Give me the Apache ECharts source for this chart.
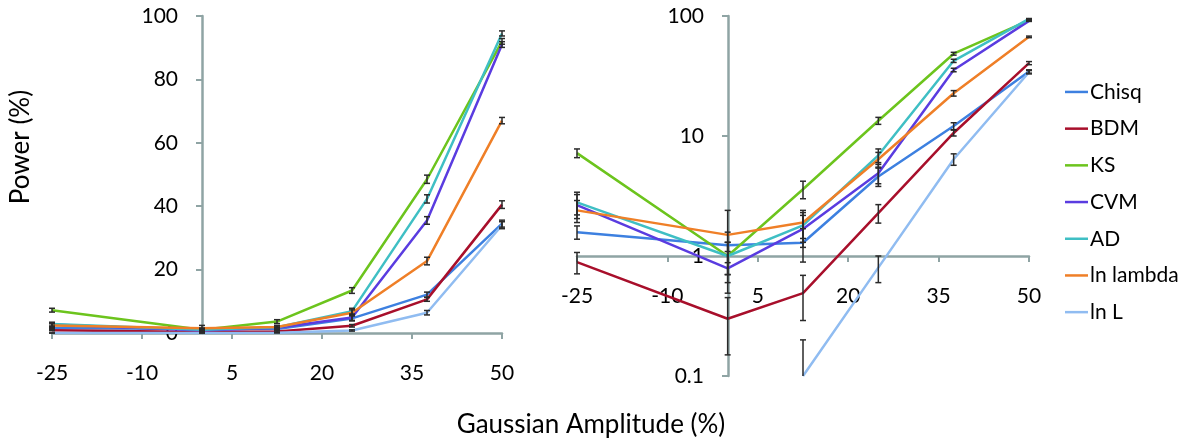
<!DOCTYPE html>
<html>
<head>
<meta charset="utf-8">
<script src="https://cdn.jsdelivr.net/npm/echarts@6/dist/echarts.min.js"></script>
<style>
html,body{margin:0;padding:0;background:#fff;}
#c{width:1192px;height:443px;}
</style>
</head>
<body>
<div id="c"></div>
<script>
// ---- data ----
var amplitudes = [-25, 0, 12.5, 25, 37.5, 50];
var xTicks = [-25, -10, 5, 20, 35, 50];
var seriesNames = ['Chisq', 'BDM', 'KS', 'CVM', 'AD', 'ln lambda', 'ln L'];
var chisq     = [1.58, 1.23, 1.29, 4.6, 12.1, 34.5];
var bdm       = [0.89, 0.30, 0.49, 2.28, 10.6, 40.5];
var ks        = [7.2, 1.0, 3.6, 13.4, 48.5, 92];
var cvm       = [2.65, 0.79, 1.68, 4.9, 35.5, 91];
var ad        = [2.8, 1.0, 1.8, 6.9, 42.3, 94.5];
var lnLambda  = [2.4, 1.5, 1.9, 6.4, 22.7, 67];
var lnL       = [0, 0, 0.1, 0.8, 6.4, 34];
var chisqErr    = [0.2, 0.35, 0.4, 0.8, 0.8, 1.1];
var bdmErr      = [0.18, 0.15, 0.2, 0.4, 0.6, 1.2];
var ksErr       = [0.6, 0.3, 0.6, 0.9, 1.3, 0.9];
var cvmErr      = [0.6, 0.3, 0.5, 0.9, 1.2, 0.9];
var adErr       = [0.6, 0.3, 0.5, 0.9, 1.3, 0.8];
var lnLambdaErr = [0.5, 0.9, 0.5, 0.9, 1.2, 1.0];
var lnLErr      = [0, 0, 0.1, 0.2, 0.7, 1.1];
var linTicksMax = 100;
var logMin = 0.1, logMax = 100;

var values = [chisq, bdm, ks, cvm, ad, lnLambda, lnL];
var errors = [chisqErr, bdmErr, ksErr, cvmErr, adErr, lnLambdaErr, lnLErr];
var colors = ['#3d80e0', '#a80f2b', '#6cc41d', '#5a3ce0', '#3fbfc4', '#ef7f27', '#90bcf1'];

var axisColor = '#8fa4a4';
var FONT = 'Lato, "Open Sans", sans-serif';
var TXT = '#000';

function xAxisCfg(gridIndex, offset) {
  return {
    type: 'value', gridIndex: gridIndex, min: -25, max: 50,
    offset: offset,
    axisLine: {show: true, onZero: false, lineStyle: {color: axisColor, width: 2.5}},
    axisTick: {show: true, length: 6, inside: false, customValues: xTicks, lineStyle: {color: axisColor, width: 2}},
    axisLabel: {customValues: xTicks, margin: 30, fontSize: 21, color: TXT, fontFamily: FONT},
    splitLine: {show: false}
  };
}
function yAxisBase(gridIndex, offset) {
  return {
    gridIndex: gridIndex, offset: offset,
    axisLine: {show: true, onZero: false, lineStyle: {color: axisColor, width: 2.5}},
    axisTick: {show: true, length: 6, inside: false, lineStyle: {color: axisColor, width: 2}},
    axisLabel: {margin: 24, fontSize: 21, color: TXT, fontFamily: FONT},
    splitLine: {show: false},
    minorTick: {show: false}
  };
}

var yLin = yAxisBase(0, -150);
yLin.type = 'value'; yLin.min = 0; yLin.max = linTicksMax; yLin.interval = 20;
var yLog = yAxisBase(1, -151);
yLog.type = 'log'; yLog.logBase = 10; yLog.min = logMin; yLog.max = logMax;
yLog.axisLabel.formatter = function (v) { return String(+v.toPrecision(3)); };

function errSeries(idx, gridIdx, isLog) {
  var data = [];
  for (var i = 0; i < amplitudes.length; i++) {
    var v = values[idx][i];
    if (isLog && !(v > 0)) continue;
    data.push([amplitudes[i], v, errors[idx][i]]);
  }
  return {
    type: 'custom', name: seriesNames[idx] + ' err', xAxisIndex: gridIdx, yAxisIndex: gridIdx,
    z: 5, silent: true, encode: {x: 0, y: 1},
    renderItem: function (params, api) {
      var x = api.value(0), y = api.value(1), e = api.value(2);
      var hi = y + e, lo = y - e, loCap = true;
      if (isLog) {
        if (lo < logMin) { lo = logMin; loCap = false; }
        if (hi > logMax) hi = logMax;
      } else {
        if (lo < 0) lo = 0;
      }
      var pH = api.coord([x, hi]), pL = api.coord([x, lo]);
      var st = {stroke: '#2a2a2a', lineWidth: 1.5};
      var ch = [
        {type: 'line', shape: {x1: pH[0], y1: pH[1], x2: pL[0], y2: pL[1]}, style: st},
        {type: 'line', shape: {x1: pH[0] - 3, y1: pH[1], x2: pH[0] + 3, y2: pH[1]}, style: st}
      ];
      if (loCap) ch.push({type: 'line', shape: {x1: pL[0] - 3, y1: pL[1], x2: pL[0] + 3, y2: pL[1]}, style: st});
      return {type: 'group', children: ch};
    },
    data: data
  };
}

var series = [];
[0, 1].forEach(function (g) {
  var isLog = g === 1;
  for (var k = 0; k < seriesNames.length; k++) {
    var d = [];
    for (var i = 0; i < amplitudes.length; i++) {
      var v = values[k][i];
      if (isLog && !(v > 0)) continue;
      d.push([amplitudes[i], v]);
    }
    series.push({
      type: 'line', name: seriesNames[k], xAxisIndex: g, yAxisIndex: g,
      data: d, symbol: 'none', color: colors[k],
      lineStyle: {width: 2.5, color: colors[k]}, z: 3, silent: true
    });
  }
});
[0, 1].forEach(function (g) {
  for (var k = 0; k < seriesNames.length; k++) series.push(errSeries(k, g, g === 1));
});

var chart = echarts.init(document.getElementById('c'), null, {renderer: 'canvas'});
chart.setOption({
  backgroundColor: '#fff',
  animation: false,
  grid: [
    {left: 52, top: 16, width: 450, height: 317, containLabel: false, outerBoundsMode: 'none'},
    {left: 577, top: 16, width: 452, height: 360, containLabel: false, outerBoundsMode: 'none'}
  ],
  xAxis: [xAxisCfg(0, 0), xAxisCfg(1, -120)],
  yAxis: [yLin, yLog],
  legend: {
    data: seriesNames, orient: 'vertical', left: 1060, top: 68.6,
    icon: 'rect', itemWidth: 23, itemHeight: 2.5, itemGap: 0,
    textStyle: {fontSize: 21, color: TXT, fontFamily: FONT, lineHeight: 36.7, padding: [0, 0, 0, -3]},
    selectedMode: false
  },
  graphic: [
    {type: 'text', x: 21, y: 147, rotation: Math.PI / 2,
     style: {text: 'Power (%)', fontSize: 26, fontFamily: FONT, fill: TXT, align: 'center', verticalAlign: 'middle'}},
    {type: 'text', x: 591, y: 425,
     style: {text: 'Gaussian Amplitude (%)', fontSize: 26, fontFamily: FONT, fill: TXT, align: 'center', verticalAlign: 'middle'}}
  ],
  series: series
});
</script>
</body>
</html>
